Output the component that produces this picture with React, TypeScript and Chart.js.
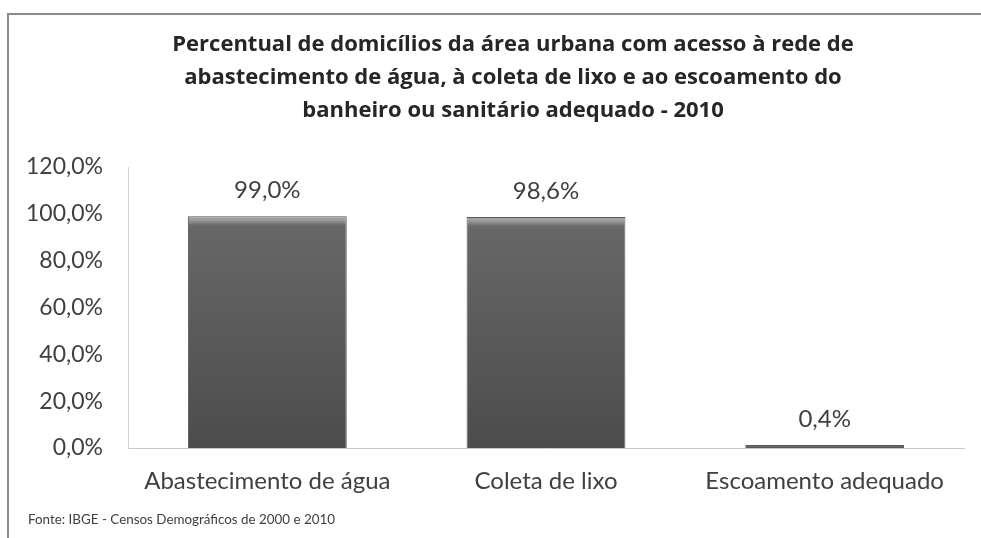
import React, { useEffect, useRef } from "react";
import { Chart, registerables } from "chart.js";

Chart.register(...registerables);

const categories = ["Abastecimento de água", "Coleta de lixo", "Escoamento adequado"];
const values = [99.0, 98.6, 0.4];
const yTicks = [0, 20, 40, 60, 80, 100, 120];
const titleLines = [
  "Percentual de domicílios da área urbana com acesso à rede de",
  "abastecimento de água, à coleta de lixo e ao escoamento do",
  "banheiro ou sanitário adequado - 2010",
];
const sourceNote = "Fonte: IBGE - Censos Demográficos de 2000 e 2010";

const fmt = (v: number) => v.toFixed(1).replace(".", ",") + "%";
const FONT = "Lato, 'Open Sans', sans-serif";
const TITLE_FONT = "'Open Sans', Lato, sans-serif";

const decorPlugin = {
  id: "decor",
  beforeDraw(chart: any) {
    const ctx = chart.ctx;
    ctx.save();
    ctx.strokeStyle = "#8c8c8c";
    ctx.lineWidth = 2;
    ctx.beginPath();
    ctx.moveTo(8, chart.height);
    ctx.lineTo(8, 14);
    ctx.lineTo(chart.width, 14);
    ctx.stroke();
    ctx.restore();
  },
  afterDraw(chart: any) {
    const ctx = chart.ctx;
    ctx.save();
    // title
    ctx.fillStyle = "#262626";
    ctx.font = "bold 22px " + TITLE_FONT;
    ctx.textBaseline = "middle";
    ctx.textAlign = "center";
    titleLines.forEach((line, i) => {
      ctx.fillText(line, 513, 45 + i * 33);
    });
    // source note
    ctx.fillStyle = "#404040";
    ctx.font = "13.4px " + FONT;
    ctx.textAlign = "left";
    ctx.fillText(sourceNote, 28, 520);
    ctx.restore();
  },
};

const labelPlugin = {
  id: "barLabels",
  afterDatasetsDraw(chart: any) {
    const ctx = chart.ctx;
    const meta = chart.getDatasetMeta(0);
    ctx.save();
    ctx.fillStyle = "#404040";
    ctx.font = "24px " + FONT;
    ctx.textAlign = "center";
    ctx.textBaseline = "middle";
    meta.data.forEach((el: any, i: number) => {
      ctx.fillText(fmt(values[i]), el.x, el.y - 26);
    });
    ctx.restore();
  },
};

export default function App() {
  const ref = useRef<HTMLCanvasElement | null>(null);
  useEffect(() => {
    if (!ref.current) return;
    const chart = new Chart(ref.current, {
      type: "bar",
      data: {
        labels: categories,
        datasets: [
          {
            data: values,
            barPercentage: 0.57,
            categoryPercentage: 1,
            minBarLength: 3,
            borderWidth: 1,
            borderColor: "rgba(70,70,70,0.9)",
            backgroundColor: (c: any) => {
              const chart = c.chart;
              if (!chart.chartArea || c.raw === undefined) return "#5a5a5a";
              const ys = chart.scales.y;
              const bottom = ys.getPixelForValue(0);
              let top = ys.getPixelForValue(c.raw);
              if (bottom - top < 3) top = bottom - 3;
              const h = Math.max(bottom - top, 1);
              const g = chart.ctx.createLinearGradient(0, top, 0, bottom);
              const f = Math.min(9 / h, 0.5);
              g.addColorStop(0, "#a8a8a8");
              g.addColorStop(f * 0.45, "#9a9a9a");
              g.addColorStop(f, "#6a6a6a");
              g.addColorStop(Math.min(f * 1.2, 1), "#676767");
              g.addColorStop(1, "#4c4c4c");
              return g;
            },
          },
        ],
      },
      options: {
        animation: false,
        responsive: false,
        layout: { padding: { left: 0, right: 17, top: 167, bottom: 0 } },
        plugins: {
          legend: { display: false },
          tooltip: { enabled: false },
          title: { display: false },
        },
        scales: {
          x: {
            grid: { display: false, drawTicks: false },
            border: { color: "#c8c8c8", width: 1 },
            ticks: { color: "#404040", font: { family: FONT, size: 24 }, padding: 19 },
            afterFit: (s: any) => {
              s.height = 90;
            },
          },
          y: {
            min: 0,
            max: 120,
            afterBuildTicks: (s: any) => {
              s.ticks = yTicks.map((v) => ({ value: v }));
            },
            ticks: {
              color: "#404040",
              font: { family: FONT, size: 23 },
              padding: 25,
              callback: (v: any) => fmt(Number(v)),
            },
            grid: { display: false, drawTicks: false },
            border: { color: "#d4d4d4", width: 1 },
            afterFit: (s: any) => {
              s.width = 128;
            },
          },
        },
      },
      plugins: [decorPlugin, labelPlugin],
    });
    return () => chart.destroy();
  }, []);
  return (
    <div style={{ position: "fixed", left: 0, top: 0, width: 981, height: 538, background: "#fff" }}>
      <canvas ref={ref} width={981} height={538} style={{ width: 981, height: 538, display: "block" }} />
    </div>
  );
}
